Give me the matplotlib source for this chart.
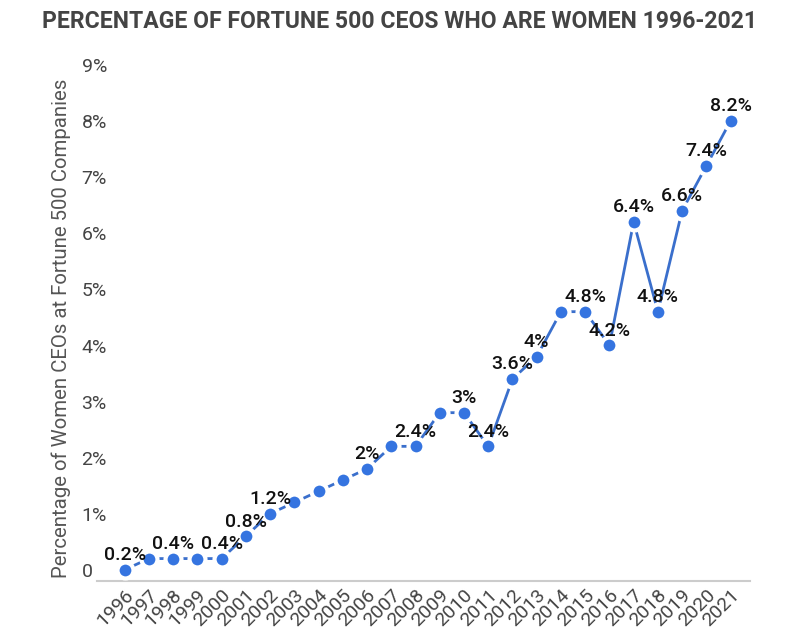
import matplotlib
matplotlib.use('Agg')
import matplotlib.pyplot as plt
from matplotlib.transforms import ScaledTranslation

plt.rcParams['font.family'] = ['Roboto', 'DejaVu Sans']

# data
years = [str(y) for y in range(1996, 2022)]
pct = [0.2, 0.4, 0.4, 0.4, 0.4, 0.8, 1.2, 1.4, 1.6, 1.8, 2.0, 2.4, 2.4,
       3.0, 3.0, 2.4, 3.6, 4.0, 4.8, 4.8, 4.2, 6.4, 4.8, 6.6, 7.4, 8.2]
labelled_years = ['1996', '1998', '2000', '2001', '2002', '2006', '2008',
                  '2010', '2011', '2012', '2013', '2015', '2016', '2017',
                  '2018', '2019', '2020', '2021']
yticks = [0, 1, 2, 3, 4, 5, 6, 7, 8, 9]
ytick_labels = ['0', '1%', '2%', '3%', '4%', '5%', '6%', '7%', '8%', '9%']

fig = plt.figure(figsize=(8, 6.44), dpi=100)
ax = fig.add_axes([0.121, 0.0978, 0.8165, 0.7842])

x = list(range(len(years)))
ax.plot(x, pct, color='#3a6fcc', linewidth=2.0, marker='o', markersize=11.5,
        markerfacecolor='#3574e0', markeredgecolor='white', markeredgewidth=3,
        zorder=3, clip_on=False)

for i, (yr, v) in enumerate(zip(years, pct)):
    if yr in labelled_years:
        txt = f'{v:g}%'
        ax.annotate(txt, (i, v), xytext=(0, 10.5), textcoords='offset points',
                    ha='center', va='center', fontsize=14, fontweight='medium',
                    color='#111111', zorder=4)

ax.set_xlim(-1.15, 25.8)
ax.set_ylim(0, 9)
ax.set_xticks(x)
ax.set_xticklabels(years, rotation=45, ha='right', va='center',
                   rotation_mode='anchor', fontsize=14, color='#444444')
ax.set_yticks(yticks)
ax.set_yticklabels(ytick_labels, fontsize=14, color='#444444', ha='left')
ax.tick_params(axis='y', length=0, pad=11)
ax.tick_params(axis='x', length=0, pad=8)
yshift = ScaledTranslation(0, 0.11, fig.dpi_scale_trans)
for lab in ax.get_yticklabels():
    lab.set_transform(lab.get_transform() + yshift)
xshift = ScaledTranslation(0.06, 0, fig.dpi_scale_trans)
for lab in ax.get_xticklabels():
    lab.set_transform(lab.get_transform() + xshift)

for s in ['top', 'right', 'left']:
    ax.spines[s].set_visible(False)
ax.spines['bottom'].set_color('#cccccc')
ax.spines['bottom'].set_linewidth(1.5)

ax.set_ylabel('Percentage of Women CEOs at Fortune 500 Companies',
              fontsize=14.7, color='#555555', va='center')
ax.yaxis.set_label_coords(-0.054, 0.5)

fig.text(0.5, 0.966, 'PERCENTAGE OF FORTUNE 500 CEOS WHO ARE WOMEN 1996-2021',
         ha='center', va='center', fontsize=16.6, fontweight='bold',
         color='#444444')

fig.savefig('out.png', dpi=100)
